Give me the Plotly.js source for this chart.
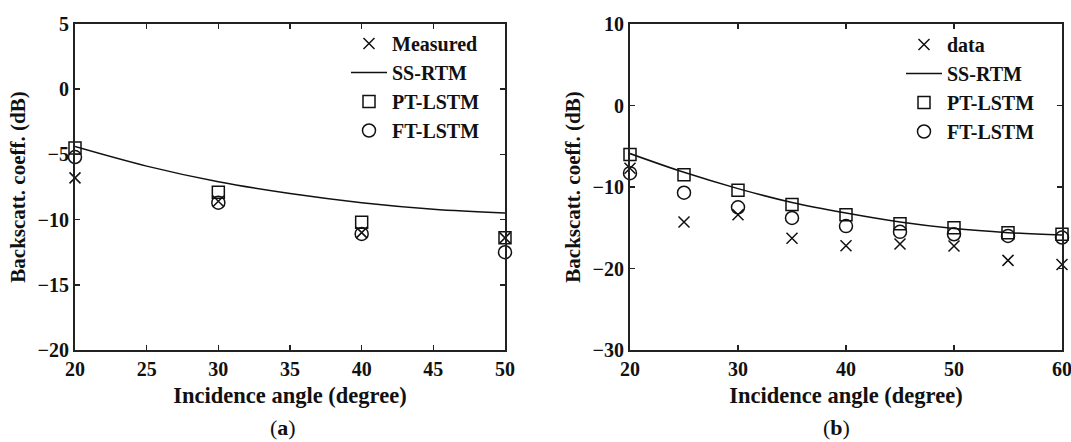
<!DOCTYPE html>
<html>
<head>
<meta charset="utf-8">
<script src="https://cdn.plot.ly/plotly-3.0.1.min.js"></script>
<style>
  html, body { margin: 0; padding: 0; background: #fff; }
  #chart { width: 1071px; height: 442px; }
</style>
</head>
<body>
<div id="chart"></div>
<script>
// Panel (a): measured backscatter vs. model predictions
const anglesA = [20, 30, 40, 50];
const measuredA = [-6.8, -8.6, -11.0, -11.4];
const ptLstmA = [-4.5, -7.9, -10.2, -11.4];
const ftLstmA = [-5.2, -8.7, -11.1, -12.5];
const rtmAnglesA = [20, 25, 30, 35, 40, 45, 50];
const ssRtmA = [-4.4, -5.9, -7.1, -8.0, -8.7, -9.2, -9.5];

// Panel (b): data vs. model predictions
const anglesB = [20, 25, 30, 35, 40, 45, 50, 55, 60];
const dataB = [-7.7, -14.3, -13.4, -16.3, -17.2, -17.0, -17.25, -19.0, -19.5];
const ptLstmB = [-6.0, -8.5, -10.4, -12.15, -13.4, -14.5, -15.0, -15.6, -15.8];
const ftLstmB = [-8.3, -10.7, -12.5, -13.8, -14.8, -15.5, -15.8, -16.0, -16.2];
const ssRtmB = [-5.9, -8.2, -10.2, -11.9, -13.2, -14.3, -15.1, -15.6, -15.9];

const ticksAx = [20, 25, 30, 35, 40, 45, 50];
const ticksAy = [-20, -15, -10, -5, 0, 5];
const ticksBx = [20, 30, 40, 50, 60];
const ticksBy = [-30, -20, -10, 0, 10];

const FAMILY = '"Liberation Serif", "Times New Roman", serif';
const INK = '#111';

function traces(xa, ya, legend, ang, meas, measName, rtmAng, rtm, pt, ft) {
  return [
    { type: 'scatter', mode: 'markers', name: measName, x: ang, y: meas,
      xaxis: xa, yaxis: ya, legend: legend, cliponaxis: false,
      marker: { symbol: 'x-thin', size: 11, color: INK, line: { color: INK, width: 1.5 } } },
    { type: 'scatter', mode: 'lines', name: 'SS-RTM', x: rtmAng, y: rtm,
      xaxis: xa, yaxis: ya, legend: legend, cliponaxis: false,
      line: { color: INK, width: 1.5, shape: 'spline' } },
    { type: 'scatter', mode: 'markers', name: 'PT-LSTM', x: ang, y: pt,
      xaxis: xa, yaxis: ya, legend: legend, cliponaxis: false,
      marker: { symbol: 'square-open', size: 12, color: INK, line: { color: INK, width: 1.5 } } },
    { type: 'scatter', mode: 'markers', name: 'FT-LSTM', x: ang, y: ft,
      xaxis: xa, yaxis: ya, legend: legend, cliponaxis: false,
      marker: { symbol: 'circle-open', size: 13, color: INK, line: { color: INK, width: 1.5 } } }
  ];
}

const data = [].concat(
  traces('x', 'y', 'legend', anglesA, measuredA, 'Measured', rtmAnglesA, ssRtmA, ptLstmA, ftLstmA),
  traces('x2', 'y2', 'legend2', anglesB, dataB, 'data', anglesB, ssRtmB, ptLstmB, ftLstmB)
);

const W = 1071, H = 442;
const tickFont = { family: FAMILY, size: 20, color: INK, weight: 'bold' };
const xTitleFont = { family: FAMILY, size: 22.5, color: INK, weight: 'bold' };
const yTitleFont = { family: FAMILY, size: 21, color: INK, weight: 'bold' };

function axis(range, vals, domain, anchor, title, font, standoff) {
  return {
    range: range, domain: domain, anchor: anchor, tickmode: 'array', tickvals: vals,
    showline: true, linewidth: 2, linecolor: '#222', mirror: 'ticks',
    ticks: 'inside', ticklen: 5, tickwidth: 1.5, tickcolor: '#222',
    showgrid: false, zeroline: false, tickfont: tickFont,
    ticklabeloverflow: 'allow',
    title: { text: title, font: font, standoff: standoff }
  };
}

const yDom = [(H - 350) / H, (H - 24) / H];
const legendStyle = {
  font: { family: FAMILY, size: 20, color: INK, weight: 'bold' },
  bgcolor: 'rgba(0,0,0,0)', borderwidth: 0, tracegroupgap: 0,
  xanchor: 'left', yanchor: 'top', itemwidth: 36
};

const layout = {
  width: W, height: H,
  margin: { l: 0, r: 0, t: 0, b: 0 },
  paper_bgcolor: '#fff', plot_bgcolor: '#fff',
  showlegend: true,
  xaxis: axis([20, 50], ticksAx, [75 / W, 505 / W], 'y', 'Incidence angle (degree)', xTitleFont, 8),
  yaxis: axis([-20, 5], ticksAy, yDom, 'x', 'Backscatt. coeff. (dB)', yTitleFont, 6),
  xaxis2: axis([20, 60], ticksBx, [630 / W, 1062 / W], 'y2', 'Incidence angle (degree)', xTitleFont, 8),
  yaxis2: axis([-30, 10], ticksBy, yDom, 'x2', 'Backscatt. coeff. (dB)', yTitleFont, 6),
  legend: Object.assign({ x: 346 / W, y: (H - 24) / H }, legendStyle),
  legend2: Object.assign({ x: 901 / W, y: (H - 25) / H }, legendStyle),
  annotations: [
    { text: '(<b>a</b>)', x: 283 / W, y: 0, xref: 'paper', yref: 'paper',
      showarrow: false, xanchor: 'center', yanchor: 'bottom',
      font: { family: FAMILY, size: 22, color: INK } },
    { text: '(<b>b</b>)', x: 836 / W, y: 0, xref: 'paper', yref: 'paper',
      showarrow: false, xanchor: 'center', yanchor: 'bottom',
      font: { family: FAMILY, size: 22, color: INK } }
  ]
};

Plotly.newPlot('chart', data, layout, { staticPlot: true, displayModeBar: false });
</script>
</body>
</html>
